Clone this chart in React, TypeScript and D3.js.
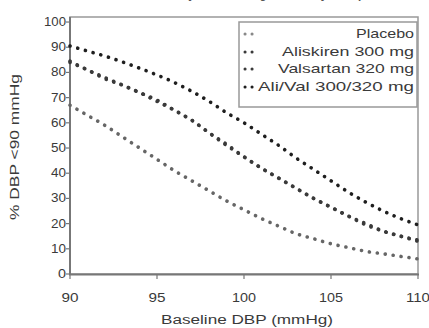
import React from "react";
import * as d3 from "d3";

const baselineDBP = [90, 91, 92, 93, 94, 95, 96, 97, 98, 99, 100, 101, 102, 103, 104, 105, 106, 107, 108, 109, 110];
const placebo = [67, 63, 59, 54.5, 50, 45.5, 41, 37, 33, 29, 25.5, 22, 19, 16, 14, 12, 10.5, 9, 8, 7, 6];
const aliskiren = [84, 81, 77.5, 75, 72, 69, 65, 61, 56, 51, 46.5, 42, 38, 34, 30, 26.5, 23, 19.5, 17, 15, 13];
const valsartan = [84.5, 81, 78, 75, 72, 68.5, 65, 61, 56, 51.5, 46.5, 42, 38, 34, 30, 26.5, 23, 20, 17, 15, 13.5];
const aliVal = [90.5, 88.5, 86.5, 84.2, 81.7, 79, 76, 72.5, 68.5, 64, 60, 55.5, 51, 46, 41.5, 37, 32.5, 28.5, 25, 22, 19.5];
const seriesNames = ["Placebo", "Aliskiren 300 mg", "Valsartan 320 mg", "Ali/Val 300/320 mg"];
const seriesValues = [placebo, aliskiren, valsartan, aliVal];
const seriesColors = ["#666", "#3a3a3a", "#3a3a3a", "#1e1e1e"];
const xTicks = [90, 95, 100, 105, 110];
const yTicks = [0, 10, 20, 30, 40, 50, 60, 70, 80, 90, 100];

export default function App() {
  const x = d3.scaleLinear().domain([90, 110]).range([70, 418]);
  const y = d3.scaleLinear().domain([0, 102]).range([274, 17]);
  const line = d3
    .line<number>()
    .x((_, i) => x(baselineDBP[i]))
    .y((d) => y(d))
    .curve(d3.curveMonotoneX);
  const font = "'Liberation Sans', Arial, sans-serif";
  const legendY = [38, 56, 73, 91];
  const legendLen = [58, 132, 136, 156];
  return (
    <svg
      width={429}
      height={328}
      style={{ position: "absolute", left: 0, top: 0, background: "#fff" }}
      fontFamily={font}
    >
      <rect x={0} y={0} width={429} height={328} fill="#fff" />
      <text x={250} y={-2} textAnchor="middle" fontSize={13} fontWeight="bold" fill="#555" textLength={230} lengthAdjust="spacingAndGlyphs">
        Probability of Achieving Control by Group
      </text>
      {/* frame */}
      <rect x={70} y={17} width={348} height={257} fill="none" stroke="#999" strokeWidth={1.5} />
      <line x1={70} x2={70} y1={17} y2={275} stroke="#777" strokeWidth={2} />
      <line x1={69} x2={419} y1={274.5} y2={274.5} stroke="#777" strokeWidth={2} />
      {/* y ticks */}
      {yTicks.map((t) => (
        <g key={"y" + t}>
          <line x1={66} x2={70} y1={y(t)} y2={y(t)} stroke="#777" strokeWidth={1.2} />
          <text x={66} y={y(t) + 4} textAnchor="end" fontSize={12} fill="#3a3a3a" textLength={t === 100 ? 22 : t === 0 ? 8 : 15} lengthAdjust="spacingAndGlyphs">
            {t}
          </text>
        </g>
      ))}
      {/* x ticks */}
      {xTicks.map((t) => (
        <g key={"x" + t}>
          <line x1={x(t)} x2={x(t)} y1={274} y2={279} stroke="#777" strokeWidth={1.2} />
          <text x={x(t)} y={302} textAnchor="middle" fontSize={13} fill="#3a3a3a" textLength={t >= 100 ? 24 : 17} lengthAdjust="spacingAndGlyphs">
            {t}
          </text>
        </g>
      ))}
      <text x={247} y={324} textAnchor="middle" fontSize={12} fill="#3a3a3a" textLength={172} lengthAdjust="spacingAndGlyphs">
        Baseline DBP (mmHg)
      </text>
      <text
        transform={`translate(19,147) rotate(-90)`}
        textAnchor="middle"
        fontSize={12}
        fill="#3a3a3a"
        textLength={146}
        lengthAdjust="spacingAndGlyphs"
      >
        % DBP &lt;90 mmHg
      </text>
      {/* series */}
      {seriesValues.map((vals, i) => (
        <path
          key={"s" + i}
          d={line(vals) || ""}
          fill="none"
          stroke={seriesColors[i]}
          strokeWidth={3.6}
          strokeLinecap="round"
          strokeDasharray="0.1 7.9"
        />
      ))}
      {/* legend */}
      <rect x={239} y={22} width={178} height={85} fill="#fff" stroke="#999" strokeWidth={1.5} />
      {seriesNames.map((name, i) => (
        <g key={"l" + i}>
          <line
            x1={245}
            x2={259}
            y1={legendY[i] - 4}
            y2={legendY[i] - 4}
            stroke={i === 0 ? "#888" : seriesColors[i]}
            strokeWidth={3}
            strokeLinecap="round"
            strokeDasharray="0.1 6.9"
          />
          <text x={414} y={legendY[i]} textAnchor="end" fontSize={13} fill="#3a3a3a" textLength={legendLen[i]} lengthAdjust="spacingAndGlyphs">
            {name}
          </text>
        </g>
      ))}
    </svg>
  );
}
